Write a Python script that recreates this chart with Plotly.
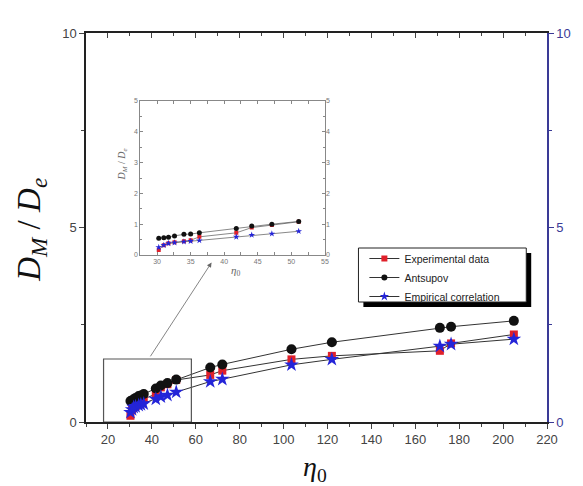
import plotly.graph_objects as go

# ---------------- data ----------------
eta0 = [30.25, 31.0, 31.7, 32.6, 34.0, 35.0, 36.3, 41.8, 44.1, 47.1, 51.1,
        66.6, 72.1, 103.6, 122.0, 171.2, 176.3, 204.9]
experimental = [0.16, 0.32, 0.38, 0.41, 0.45, 0.48, 0.59, 0.72, 0.89, 0.97, 1.08,
                1.21, 1.32, 1.61, 1.70, 1.83, 2.02, 2.25]
antsupov = [0.54, 0.56, 0.58, 0.62, 0.67, 0.68, 0.72, 0.86, 0.94, 1.00, 1.09,
            1.40, 1.48, 1.87, 2.05, 2.42, 2.45, 2.60]
empirical = [0.25, 0.32, 0.38, 0.40, 0.43, 0.45, 0.47, 0.59, 0.65, 0.69, 0.77,
             1.04, 1.10, 1.47, 1.61, 1.95, 2.00, 2.13]
n_inset = 11  # points shown in the zoomed inset

series_names = ["Experimental data", "Antsupov", "Empirical correlation"]
series_vals = [experimental, antsupov, empirical]
series_colors = ["#e0202a", "#111111", "#2424d8"]
series_symbols = ["square", "circle", "star"]
main_sizes = [8, 10, 11]
inset_sizes = [4, 5, 5]
legend_sizes = [6, 6, 7]

x_ticks = [20, 40, 60, 80, 100, 120, 140, 160, 180, 200, 220]
y_ticks = [0, 5, 10]
inset_x_ticks = [30, 35, 40, 45, 50, 55]
inset_y_ticks = [0, 1, 2, 3, 4, 5]

FONT = "Liberation Sans, Arial, sans-serif"
SERIF = "Liberation Serif, Times New Roman, serif"
GRAY = "#444444"
NAVY = "#3a3a96"

fig = go.Figure()

# main traces
for name, vals, col, sym, sz in zip(series_names, series_vals, series_colors, series_symbols, main_sizes):
    fig.add_trace(go.Scatter(
        x=eta0, y=vals, name=name, mode="lines+markers", showlegend=False,
        line=dict(color="#333333", width=1),
        marker=dict(color=col, symbol=sym, size=sz, line=dict(width=0)),
        xaxis="x", yaxis="y"))

# legend entries (smaller symbols, as in the reference legend)
for name, col, sym, sz in zip(series_names, series_colors, series_symbols, legend_sizes):
    fig.add_trace(go.Scatter(
        x=[None], y=[None], name=name, mode="lines+markers",
        line=dict(color="#333333", width=1),
        marker=dict(color=col, symbol=sym, size=sz, line=dict(width=0)),
        xaxis="x", yaxis="y"))

# inset traces
for name, vals, col, sym, sz in zip(series_names, series_vals, series_colors, series_symbols, inset_sizes):
    fig.add_trace(go.Scatter(
        x=eta0[:n_inset], y=vals[:n_inset], name=name, mode="lines+markers",
        showlegend=False,
        line=dict(color="#555555", width=0.7),
        marker=dict(color=col, symbol=sym, size=sz, line=dict(width=0)),
        xaxis="x4", yaxis="y4"))

# invisible helper traces so the secondary axes get drawn
for xa, ya in [("x3", "y"), ("x", "y2"), ("x4", "y5")]:
    fig.add_trace(go.Scatter(x=[None], y=[None], mode="markers", showlegend=False,
                             hoverinfo="skip", xaxis=xa, yaxis=ya))

# paper helpers (plot area 86..553 x 33..422 px)
def px(x):
    return (x - 86) / 467.0

def py(y):
    return (422 - y) / 389.0

tickfont = dict(family=FONT, size=13, color=GRAY)
small_tf = dict(family=FONT, size=7, color="#777777")

fig.update_layout(
    width=583, height=486,
    margin=dict(l=86, r=30, t=33, b=64),
    paper_bgcolor="white", plot_bgcolor="white",
    showlegend=True,
    legend=dict(x=px(368), y=py(244), xanchor="left", yanchor="top",
                bgcolor="rgba(0,0,0,0)", borderwidth=0,
                font=dict(family=FONT, size=10.5, color="#222"),
                tracegroupgap=0, itemwidth=30),
    xaxis=dict(range=[10, 220], domain=[0, 1], anchor="y",
               tickmode="array", tickvals=x_ticks, ticks="outside", ticklen=5,
               minor=dict(dtick=10, tick0=0, ticks="outside", ticklen=3),
               showline=True, linecolor="#222", linewidth=1.5,
               showgrid=False, zeroline=False, tickfont=tickfont),
    xaxis3=dict(range=[10, 220], overlaying="x", side="top", anchor="y",
                tickmode="array", tickvals=x_ticks, ticks="inside", ticklen=5,
                minor=dict(dtick=10, tick0=0, ticks="inside", ticklen=3),
                showticklabels=False, showline=True, linecolor="#222", linewidth=1.5,
                showgrid=False, zeroline=False),
    yaxis=dict(range=[0, 10], domain=[0, 1], anchor="x",
               tickmode="array", tickvals=y_ticks, ticks="outside", ticklen=5,
               minor=dict(dtick=2.5, tick0=0, ticks="outside", ticklen=3),
               showline=True, linecolor="#222", linewidth=1.5,
               showgrid=False, zeroline=False, tickfont=tickfont),
    yaxis2=dict(range=[0, 10], overlaying="y", side="right", anchor="x",
                tickmode="array", tickvals=y_ticks, ticks="outside", ticklen=5,
                minor=dict(dtick=2.5, tick0=0, ticks="outside", ticklen=3),
                showline=True, linecolor=NAVY, linewidth=1.5, tickcolor=NAVY,
                showgrid=False, zeroline=False,
                tickfont=dict(family=FONT, size=13, color=NAVY)),
    xaxis4=dict(range=[27.5, 55], domain=[px(141), px(328)], anchor="y4",
                tickmode="array", tickvals=inset_x_ticks, ticks="inside", ticklen=3,
                minor=dict(dtick=2.5, tick0=0, ticks="inside", ticklen=2),
                showline=True, linecolor="#888", linewidth=1, mirror="allticks",
                tickcolor="#888", showgrid=False, zeroline=False, tickfont=small_tf),
    yaxis4=dict(range=[0, 5], domain=[py(255), py(101)], anchor="x4",
                tickmode="array", tickvals=inset_y_ticks, ticks="inside", ticklen=3,
                minor=dict(dtick=0.5, tick0=0, ticks="inside", ticklen=2),
                showline=True, linecolor="#888", linewidth=1, mirror="allticks",
                tickcolor="#888", showgrid=False, zeroline=False, tickfont=small_tf),
    yaxis5=dict(range=[0, 5], domain=[py(255), py(101)], overlaying="y4", anchor="x4",
                side="right", tickmode="array", tickvals=inset_y_ticks, ticks="",
                showline=False, showgrid=False, zeroline=False, tickfont=small_tf),
)

# legend box with drop shadow
fig.add_shape(type="rect", xref="paper", yref="paper",
              x0=px(367), x1=px(537), y0=py(307), y1=py(253),
              fillcolor="black", line=dict(width=0), layer="below")
fig.add_shape(type="rect", xref="paper", yref="paper",
              x0=px(362), x1=px(532), y0=py(302), y1=py(248),
              fillcolor="white", line=dict(color="#222", width=1), layer="below")

# zoom rectangle on main chart
fig.add_shape(type="rect", xref="x", yref="y", x0=18, x1=58, y0=0, y1=1.62,
              line=dict(color="#555", width=1.2))

# arrow to inset
fig.add_annotation(x=67.2, y=4.1, xref="x", yref="y", ax=38.9, ay=1.65,
                   axref="x", ayref="y", text="", showarrow=True,
                   arrowhead=2, arrowsize=1.2, arrowwidth=0.8, arrowcolor="#666")

# axis titles
fig.add_annotation(x=px(30), y=py(230), xref="paper", yref="paper",
                   xanchor="center", yanchor="middle",
                   text="<i>D<sub>M</sub></i> / <i>D<sub>e</sub></i>",
                   textangle=-90, showarrow=False,
                   font=dict(family=SERIF, size=33, color="#111"))
fig.add_annotation(x=px(318), y=py(468), xref="paper", yref="paper",
                   xanchor="center", yanchor="middle",
                   text="<i>η</i><sub>0</sub>", showarrow=False,
                   font=dict(family=SERIF, size=28, color="#111"))

# inset titles
fig.add_annotation(x=px(122), y=py(165), xref="paper", yref="paper",
                   xanchor="center", yanchor="middle",
                   text="<i>D<sub>M</sub></i> / <i>D<sub>e</sub></i>",
                   textangle=-90, showarrow=False,
                   font=dict(family=SERIF, size=10, color="#666"))
fig.add_annotation(x=px(237), y=py(271), xref="paper", yref="paper",
                   xanchor="center", yanchor="middle",
                   text="<i>η</i><sub>0</sub>", showarrow=False,
                   font=dict(family=SERIF, size=11, color="#666"))

fig.write_html("out.html")
